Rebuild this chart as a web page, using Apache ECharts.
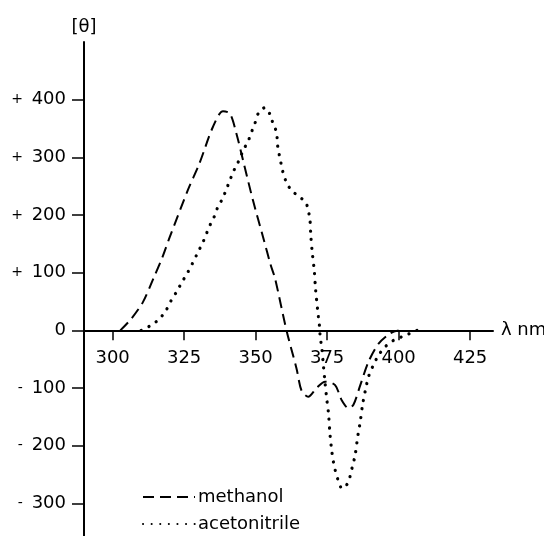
<!DOCTYPE html>
<html><head><meta charset="utf-8">
<script src="https://cdn.jsdelivr.net/npm/echarts@6/dist/echarts.min.js"></script>
<style>html,body{margin:0;padding:0;background:#fff}#c{width:544px;height:536px}</style>
</head><body><div id="c"></div>
<script>
const xTicks = [300, 325, 350, 375, 400, 425];
const yTicks = [-300, -200, -100, 0, 100, 200, 300, 400];
const seriesNames = ['methanol', 'acetonitrile'];
const methanolNm = [302.7,306.5,310.6,314.1,317.5,320,326.3,330.4,335.1,338.6,341,343.3,345.6,349.1,352.6,355.3,356.8,360.8,364.3,366.1,368.4,371.3,374.3,377.8,380.1,382.5,384.2,386.6,389.5,393,397.1,400];
const methanolTheta = [0,20,49,88,128,162,243,290,353,380,376,341,295,225,162,113,90,0,-66,-105,-115,-100,-89,-95,-121,-135,-129,-95,-54,-23,-5,0];
const acetoNm = [310,313.5,316.4,318.7,320.5,322.5,324.4,326.1,327.9,329.8,331.6,333,334.3,335.7,336.8,338.4,339.8,341,342.1,343.5,344.7,345.6,347.3,348.5,349.7,351.2,353.2,355.2,356.1,357.3,357.6,357.9,358.6,359.1,359.9,361,362.9,365.5,367.6,368.4,369,369.3,369.8,370.5,371,371.7,372.3,372.6,373.1,373.7,374.3,374.9,375.5,376,376.6,377.2,377.8,379,380.2,381.3,382.5,383.7,384.8,385.8,386.6,387.4,388.3,389.5,391.2,393,395.4,398.3,401.2,404.1,406.4];
const acetoTheta = [0,9,20,35,52,68,85,99,116,135,153,170,185,199,214,228,245,260,274,288,300,312,327,343,358,379,386,373,358,344,327,312,298,283,269,254,241,231,221,208,192,164,135,104,69,35,9,-12,-29,-61,-92,-120,-145,-180,-208,-228,-242,-262,-274,-271,-262,-239,-216,-181,-158,-129,-106,-80,-60,-43,-28,-17,-11,-5,0];

const pair = (xs, ys) => xs.map((x, i) => [x, ys[i]]);
const FONT = 'DejaVu Sans';
const GRID_TOP = 42, GRID_H = 496, Y_MIN = -360, Y_MAX = 500;
// shift the x axis (line, ticks, labels) up so that it sits on theta = 0
const zeroOffset = GRID_H * (0 - Y_MIN) / (Y_MAX - Y_MIN);
const chart = echarts.init(document.getElementById('c'), null, {renderer: 'canvas'});
chart.setOption({
  animation: false,
  backgroundColor: '#fff',
  textStyle: {fontFamily: FONT, color: '#000'},
  grid: {left: 84, top: GRID_TOP, width: 409, height: GRID_H, containLabel: false, outerBoundsMode: 'none'},
  legend: {
    orient: 'vertical', left: 142, top: 488, padding: 0, itemWidth: 52, itemHeight: 14, itemGap: 9,
    data: seriesNames,
    itemStyle: {opacity: 0},
    textStyle: {fontFamily: FONT, fontSize: 18, color: '#000', padding: [0, 0, 0, -2]}
  },
  xAxis: {
    type: 'value', min: 290, max: 433,
    offset: -zeroOffset,
    name: 'λ nm', nameLocation: 'end', nameGap: 8,
    nameTextStyle: {fontFamily: FONT, fontSize: 18, color: '#000', verticalAlign: 'middle'},
    axisLine: {onZero: false, lineStyle: {color: '#000', width: 2}},
    axisTick: {show: true, length: 10, lineStyle: {color: '#000', width: 1.5}, customValues: xTicks},
    axisLabel: {fontFamily: FONT, fontSize: 18, color: '#000', margin: 19, customValues: xTicks},
    splitLine: {show: false}
  },
  yAxis: {
    type: 'value', min: Y_MIN, max: Y_MAX,
    name: '[θ]', nameLocation: 'end', nameGap: 6,
    nameTextStyle: {fontFamily: FONT, fontSize: 18, color: '#000', align: 'center'},
    axisLine: {show: true, onZero: false, lineStyle: {color: '#000', width: 2}},
    axisTick: {show: true, length: 12, lineStyle: {color: '#000', width: 1.5}, customValues: yTicks},
    axisLabel: {
      fontFamily: FONT, fontSize: 18, color: '#000', margin: 18, customValues: yTicks,
      formatter: v => v > 0 ? '{p|+} ' + v : (v < 0 ? '{p|-} ' + (-v) : '' + v),
      rich: {p: {fontSize: 14, fontFamily: FONT, color: '#000', padding: [0, 3, 0, 0]}}
    },
    splitLine: {show: false}
  },
  series: [
    {name: seriesNames[0], type: 'line', data: pair(methanolNm, methanolTheta), symbol: 'none', smooth: 0.3,
     itemStyle: {color: '#000'},
     lineStyle: {color: '#000', width: 2, type: [11, 6]}},
    {name: seriesNames[1], type: 'line', data: pair(acetoNm, acetoTheta), symbol: 'none', smooth: 0.3,
     itemStyle: {color: '#000'},
     lineStyle: {color: '#000', width: 3.2, type: [0.1, 8.5], cap: 'round'}}
  ]
});
</script></body></html>
